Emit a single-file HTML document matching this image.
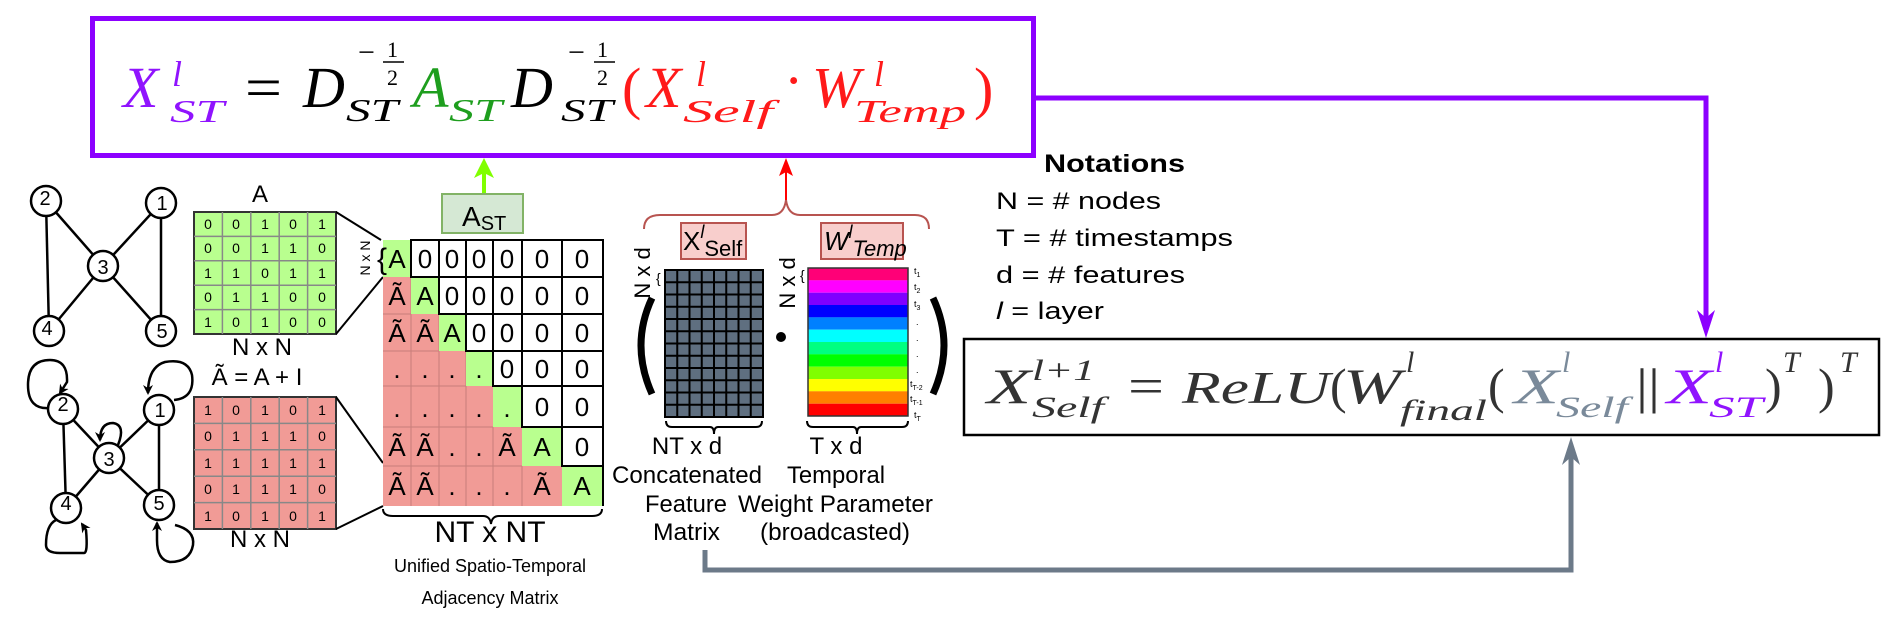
<!DOCTYPE html>
<html><head><meta charset="utf-8"><style>
html,body{margin:0;padding:0;background:#fff;}
svg{display:block;font-family:"Liberation Sans",sans-serif;}
.m{font-family:"Liberation Serif",serif;font-style:italic;}
.u{font-family:"Liberation Serif",serif;}
</style></head><body>
<svg width="1888" height="621" viewBox="0 0 1888 621" xmlns="http://www.w3.org/2000/svg">
<defs>
<marker id="ah" markerWidth="10" markerHeight="10" refX="8" refY="5" orient="auto" markerUnits="userSpaceOnUse"><path d="M0,0 L10,5 L0,10 L3,5 Z" fill="#000"/></marker>
</defs>

<!-- top formula box -->
<rect x="92.5" y="18.5" width="941" height="137" fill="#fff" stroke="#8c00ff" stroke-width="5"/>
<g class="m" font-size="58">
<text x="123" y="107" fill="#9013fe">X</text>
<text x="172" y="86" font-size="36" fill="#9013fe">l</text>
<text x="170" y="122" font-size="32" fill="#9013fe" textLength="54" lengthAdjust="spacingAndGlyphs">ST</text>
<text class="u" x="245" y="107" font-style="normal" textLength="37" lengthAdjust="spacingAndGlyphs">=</text>
<text x="303" y="107">D</text>
<text class="u" x="358" y="62" font-size="30" font-style="normal">−</text>
<text class="u" x="387" y="57" font-size="22" font-style="normal">1</text>
<line x1="383" y1="62" x2="404" y2="62" stroke="#000" stroke-width="1.5"/>
<text class="u" x="387" y="85" font-size="22" font-style="normal">2</text>
<text x="346" y="121" font-size="32" textLength="52" lengthAdjust="spacingAndGlyphs">ST</text>
<text x="413" y="107" fill="#1e9e1e">A</text>
<text x="449" y="121" font-size="32" fill="#1e9e1e" textLength="53" lengthAdjust="spacingAndGlyphs">ST</text>
<text x="511" y="107">D</text>
<text class="u" x="568" y="62" font-size="30" font-style="normal">−</text>
<text class="u" x="597" y="57" font-size="22" font-style="normal">1</text>
<line x1="594" y1="62" x2="615" y2="62" stroke="#000" stroke-width="1.5"/>
<text class="u" x="597" y="85" font-size="22" font-style="normal">2</text>
<text x="561" y="121" font-size="32" textLength="52" lengthAdjust="spacingAndGlyphs">ST</text>
<g fill="#ff1a1a">
<text class="u" x="622" y="108" font-style="normal">(</text>
<text x="646" y="107">X</text>
<text x="696" y="86" font-size="36">l</text>
<text x="683" y="122" font-size="32" textLength="90" lengthAdjust="spacingAndGlyphs">Self</text>
<text class="u" x="784" y="100" font-style="normal">·</text>
<text x="812" y="107">W</text>
<text x="874" y="86" font-size="36">l</text>
<text x="854" y="122" font-size="32" textLength="112" lengthAdjust="spacingAndGlyphs">Temp</text>
<text class="u" x="974" y="108" font-style="normal">)</text>
</g>
</g>

<!-- purple connector -->
<polyline points="1036,98 1706,98 1706,322" fill="none" stroke="#8c00ff" stroke-width="5"/>
<path d="M1697,310 L1706,338 L1715,310 L1706,318 Z" fill="#8c00ff"/>

<!-- notations -->
<text x="1044" y="172" font-size="25" font-weight="bold" textLength="141" lengthAdjust="spacingAndGlyphs">Notations</text>
<text x="996" y="209" font-size="24" textLength="165" lengthAdjust="spacingAndGlyphs">N = # nodes</text>
<text x="996" y="246" font-size="24" textLength="237" lengthAdjust="spacingAndGlyphs">T = # timestamps</text>
<text x="996" y="283" font-size="24" textLength="189" lengthAdjust="spacingAndGlyphs">d = # features</text>
<text x="996" y="319" font-size="24" textLength="108" lengthAdjust="spacingAndGlyphs"><tspan font-style="italic">l</tspan> = layer</text>

<!-- right formula box -->
<rect x="964" y="339" width="915" height="96" fill="#fff" stroke="#000" stroke-width="2.5"/>
<g class="m" font-size="50" fill="#333">
<text x="987" y="403" textLength="44" lengthAdjust="spacingAndGlyphs">X</text>
<text x="1032" y="380" font-size="30" textLength="63" lengthAdjust="spacingAndGlyphs">l+1</text>
<text x="1032" y="417" font-size="30" textLength="72" lengthAdjust="spacingAndGlyphs">Self</text>
<text class="u" x="1128" y="403" font-style="normal" textLength="36" lengthAdjust="spacingAndGlyphs">=</text>
<text x="1182" y="403" font-size="46" textLength="148" lengthAdjust="spacingAndGlyphs">ReLU</text>
<text class="u" x="1330" y="403" font-style="normal">(</text>
<text x="1343" y="403" textLength="58" lengthAdjust="spacingAndGlyphs">W</text>
<text x="1406" y="372" font-size="30">l</text>
<text x="1400" y="420" font-size="30" textLength="87" lengthAdjust="spacingAndGlyphs">final</text>
<text class="u" x="1488" y="403" font-style="normal">(</text>
<text x="1514" y="403" fill="#7a8a9a" textLength="45" lengthAdjust="spacingAndGlyphs">X</text>
<text x="1562" y="372" font-size="30" fill="#7a8a9a">l</text>
<text x="1556" y="417" font-size="30" fill="#7a8a9a" textLength="72" lengthAdjust="spacingAndGlyphs">Self</text>
<text class="u" x="1636" y="403" font-style="normal" textLength="24" lengthAdjust="spacingAndGlyphs">||</text>
<text x="1667" y="403" fill="#9013fe" textLength="45" lengthAdjust="spacingAndGlyphs">X</text>
<text x="1715" y="372" font-size="30" fill="#9013fe">l</text>
<text x="1709" y="417" font-size="30" fill="#9013fe" textLength="54" lengthAdjust="spacingAndGlyphs">ST</text>
<text class="u" x="1765" y="403" font-style="normal">)</text>
<text x="1783" y="372" font-size="30">T</text>
<text class="u" x="1818" y="403" font-style="normal">)</text>
<text x="1840" y="372" font-size="30">T</text>
</g>

<!-- grey connector -->
<polyline points="705,550 705,570 1571,570 1571,452" fill="none" stroke="#6c7a89" stroke-width="5"/>
<path d="M1562,465 L1571,437 L1580,465 L1571,457 Z" fill="#6c7a89"/>

<!-- top graph -->
<g stroke="#000" stroke-width="2.5" fill="#fff">
<line x1="46" y1="201" x2="49" y2="331"/><line x1="46" y1="201" x2="103" y2="266"/>
<line x1="161" y1="203" x2="103" y2="266"/><line x1="161" y1="203" x2="161" y2="331"/>
<line x1="103" y1="266" x2="49" y2="331"/><line x1="103" y1="266" x2="161" y2="331"/>
<circle cx="46" cy="201" r="15"/><circle cx="161" cy="203" r="15"/><circle cx="103" cy="266" r="15"/><circle cx="49" cy="331" r="15"/><circle cx="161" cy="331" r="15"/>
</g>
<g font-size="20" text-anchor="middle">
<text x="45" y="205">2</text><text x="162" y="210">1</text><text x="103" y="274">3</text><text x="47" y="335">4</text><text x="162" y="338">5</text>
</g>

<!-- bottom graph -->
<g stroke="#000" stroke-width="2.5" fill="none">
<path d="M50,408 Q28,410 28,385 Q28,360 50,360 Q68,360 67,382 L60,393" marker-end="url(#ah)"/>
<path d="M174,400 Q195,398 192,375 Q188,358 165,362 Q148,367 148,393" marker-end="url(#ah)"/>
<path d="M118,445 Q126,425 113,423 Q100,423 100,440" marker-end="url(#ah)"/>
<path d="M56,520 Q46,525 46,545 Q46,553 60,553 L84,553 Q88,553 86,530 L82,524" marker-end="url(#ah)"/>
<path d="M175,525 Q195,530 193,545 Q190,562 170,562 Q157,560 157,540 L157,523" marker-end="url(#ah)"/>
</g>
<g stroke="#000" stroke-width="2.5" fill="#fff">
<line x1="63" y1="409" x2="66" y2="508"/><line x1="63" y1="409" x2="109" y2="458"/>
<line x1="159" y1="410" x2="109" y2="458"/><line x1="159" y1="410" x2="159" y2="505"/>
<line x1="109" y1="458" x2="66" y2="508"/><line x1="109" y1="458" x2="159" y2="505"/>
<circle cx="63" cy="409" r="15"/><circle cx="159" cy="410" r="15"/><circle cx="109" cy="458" r="15"/><circle cx="66" cy="508" r="15"/><circle cx="159" cy="505" r="15"/>
</g>
<g font-size="20" text-anchor="middle">
<text x="63" y="411">2</text><text x="160" y="417">1</text><text x="109" y="466">3</text><text x="66" y="510">4</text><text x="159" y="510">5</text>
</g>

<!-- A matrix -->
<text x="260" y="202" font-size="24" text-anchor="middle">A</text>
<rect x="194" y="212" width="142" height="122" fill="#b9ff8f" stroke="#333" stroke-width="2"/>
<g stroke="#888" stroke-width="1.5">
<line x1="222.4" y1="212" x2="222.4" y2="334"/><line x1="250.8" y1="212" x2="250.8" y2="334"/><line x1="279.2" y1="212" x2="279.2" y2="334"/><line x1="307.6" y1="212" x2="307.6" y2="334"/>
<line x1="194" y1="236.4" x2="336" y2="236.4"/><line x1="194" y1="260.8" x2="336" y2="260.8"/><line x1="194" y1="285.2" x2="336" y2="285.2"/><line x1="194" y1="309.6" x2="336" y2="309.6"/>
</g>
<g font-size="14" text-anchor="middle">
<text x="208" y="229">0</text><text x="236" y="229">0</text><text x="265" y="229">1</text><text x="293" y="229">0</text><text x="322" y="229">1</text>
<text x="208" y="253">0</text><text x="236" y="253">0</text><text x="265" y="253">1</text><text x="293" y="253">1</text><text x="322" y="253">0</text>
<text x="208" y="278">1</text><text x="236" y="278">1</text><text x="265" y="278">0</text><text x="293" y="278">1</text><text x="322" y="278">1</text>
<text x="208" y="302">0</text><text x="236" y="302">1</text><text x="265" y="302">1</text><text x="293" y="302">0</text><text x="322" y="302">0</text>
<text x="208" y="327">1</text><text x="236" y="327">0</text><text x="265" y="327">1</text><text x="293" y="327">0</text><text x="322" y="327">0</text>
</g>
<text x="262" y="355" font-size="24" text-anchor="middle">N x N</text>
<text x="257" y="385" font-size="24" text-anchor="middle">Ã = A + I</text>

<!-- pink matrix -->
<rect x="194" y="397" width="142" height="132" fill="#f19b96" stroke="#333" stroke-width="2"/>
<g stroke="#888" stroke-width="1.5">
<line x1="222.4" y1="397" x2="222.4" y2="529"/><line x1="250.8" y1="397" x2="250.8" y2="529"/><line x1="279.2" y1="397" x2="279.2" y2="529"/><line x1="307.6" y1="397" x2="307.6" y2="529"/>
<line x1="194" y1="423.4" x2="336" y2="423.4"/><line x1="194" y1="449.8" x2="336" y2="449.8"/><line x1="194" y1="476.2" x2="336" y2="476.2"/><line x1="194" y1="502.6" x2="336" y2="502.6"/>
</g>
<g font-size="14" text-anchor="middle">
<text x="208" y="415">1</text><text x="236" y="415">0</text><text x="265" y="415">1</text><text x="293" y="415">0</text><text x="322" y="415">1</text>
<text x="208" y="441">0</text><text x="236" y="441">1</text><text x="265" y="441">1</text><text x="293" y="441">1</text><text x="322" y="441">0</text>
<text x="208" y="468">1</text><text x="236" y="468">1</text><text x="265" y="468">1</text><text x="293" y="468">1</text><text x="322" y="468">1</text>
<text x="208" y="494">0</text><text x="236" y="494">1</text><text x="265" y="494">1</text><text x="293" y="494">1</text><text x="322" y="494">0</text>
<text x="208" y="521">1</text><text x="236" y="521">0</text><text x="265" y="521">1</text><text x="293" y="521">0</text><text x="322" y="521">1</text>
</g>
<text x="260" y="547" font-size="24" text-anchor="middle">N x N</text>

<!-- zoom lines -->
<g stroke="#000" stroke-width="2">
<line x1="336" y1="212" x2="381" y2="240"/><line x1="336" y1="334" x2="383" y2="277"/>
<line x1="336" y1="397" x2="383" y2="463"/><line x1="336" y1="529" x2="383" y2="506"/>
</g>

<!-- A_ST box + arrow -->
<line x1="484" y1="193" x2="484" y2="172" stroke="#80ff00" stroke-width="4"/>
<path d="M474,178 L484,158 L494,178 L484,173 Z" fill="#80ff00"/>
<rect x="442" y="194" width="81" height="39" fill="#d5e8d4" stroke="#82b366" stroke-width="2"/>
<text x="462" y="226" font-size="28">A<tspan font-size="20" dy="4">ST</tspan></text>

<!-- big matrix -->
<rect x="383" y="240" width="220" height="266" fill="#f19b96"/>
<g stroke="#c87e7a" stroke-width="1">
<line x1="411" y1="277" x2="411" y2="506"/><line x1="439" y1="314" x2="439" y2="506"/><line x1="466" y1="351" x2="466" y2="506"/><line x1="493" y1="427" x2="493" y2="506"/><line x1="522" y1="466" x2="522" y2="506"/>
<line x1="383" y1="314" x2="411" y2="314"/><line x1="383" y1="351" x2="439" y2="351"/><line x1="383" y1="386" x2="466" y2="386"/><line x1="383" y1="427" x2="493" y2="427"/><line x1="383" y1="466" x2="522" y2="466"/>
</g>
<g fill="#b9ff8f">
<rect x="383" y="240" width="28" height="37"/><rect x="411" y="277" width="28" height="37"/><rect x="439" y="314" width="27" height="37"/><rect x="466" y="351" width="27" height="35"/><rect x="493" y="386" width="29" height="41"/><rect x="522" y="427" width="40" height="39"/><rect x="562" y="466" width="41" height="40"/>
</g>
<g fill="#fff" stroke="#000" stroke-width="2">
<rect x="411" y="240" width="28" height="37"/><rect x="439" y="240" width="27" height="37"/><rect x="466" y="240" width="27" height="37"/><rect x="493" y="240" width="29" height="37"/><rect x="522" y="240" width="40" height="37"/><rect x="562" y="240" width="41" height="37"/>
<rect x="439" y="277" width="27" height="37"/><rect x="466" y="277" width="27" height="37"/><rect x="493" y="277" width="29" height="37"/><rect x="522" y="277" width="40" height="37"/><rect x="562" y="277" width="41" height="37"/>
<rect x="466" y="314" width="27" height="37"/><rect x="493" y="314" width="29" height="37"/><rect x="522" y="314" width="40" height="37"/><rect x="562" y="314" width="41" height="37"/>
<rect x="493" y="351" width="29" height="35"/><rect x="522" y="351" width="40" height="35"/><rect x="562" y="351" width="41" height="35"/>
<rect x="522" y="386" width="40" height="41"/><rect x="562" y="386" width="41" height="41"/>
<rect x="562" y="427" width="41" height="39"/>
</g>
<line x1="603" y1="466" x2="603" y2="506" stroke="#000" stroke-width="2"/>
<g font-size="26" text-anchor="middle">
<text x="397" y="268">A</text><text x="425" y="268">0</text><text x="452" y="268">0</text><text x="479" y="268">0</text><text x="507" y="268">0</text><text x="542" y="268">0</text><text x="582" y="268">0</text>
<text x="397" y="305">Ã</text><text x="425" y="305">A</text><text x="452" y="305">0</text><text x="479" y="305">0</text><text x="507" y="305">0</text><text x="542" y="305">0</text><text x="582" y="305">0</text>
<text x="397" y="342">Ã</text><text x="425" y="342">Ã</text><text x="452" y="342">A</text><text x="479" y="342">0</text><text x="507" y="342">0</text><text x="542" y="342">0</text><text x="582" y="342">0</text>
<text x="397" y="378">.</text><text x="425" y="378">.</text><text x="452" y="378">.</text><text x="479" y="378">.</text><text x="507" y="378">0</text><text x="542" y="378">0</text><text x="582" y="378">0</text>
<text x="397" y="417">.</text><text x="425" y="417">.</text><text x="452" y="417">.</text><text x="479" y="417">.</text><text x="507" y="417">.</text><text x="542" y="416">0</text><text x="582" y="416">0</text>
<text x="397" y="456">Ã</text><text x="425" y="456">Ã</text><text x="452" y="456">.</text><text x="479" y="456">.</text><text x="507" y="456">Ã</text><text x="542" y="456">A</text><text x="582" y="456">0</text>
<text x="397" y="495">Ã</text><text x="425" y="495">Ã</text><text x="452" y="495">.</text><text x="479" y="495">.</text><text x="507" y="495">.</text><text x="542" y="495">Ã</text><text x="582" y="495">A</text>
</g>
<text x="377" y="269" font-size="30">{</text>
<text transform="translate(370,258) rotate(-90)" font-size="14" text-anchor="middle">N x N</text>
<path d="M383,509 Q383,516 393,516 L483,516 Q490,516 491,524 Q492,516 499,516 L592,516 Q602,516 602,509" fill="none" stroke="#000" stroke-width="2"/>
<text x="490" y="542" font-size="30" text-anchor="middle">NT x NT</text>
<text x="490" y="572" font-size="18" text-anchor="middle">Unified Spatio-Temporal</text>
<text x="490" y="604" font-size="18" text-anchor="middle">Adjacency Matrix</text>

<!-- red brace and arrow -->
<path d="M644,229 Q644,215 660,215 L772,215 Q784,215 786,200 Q788,215 800,215 L915,215 Q929,215 929,229" fill="none" stroke="#b85450" stroke-width="2"/>
<line x1="786" y1="200" x2="786" y2="172" stroke="#ff0000" stroke-width="2"/>
<path d="M779,176 L786,158 L793,176 L786,172 Z" fill="#ff0000"/>
<rect x="681" y="223" width="65" height="36" fill="#f8cecc" stroke="#b85450" stroke-width="2"/>
<text x="683" y="250" font-size="26">X<tspan font-size="18" font-style="italic" dy="-12">l</tspan><tspan font-size="22" dy="18">Self</tspan></text>
<rect x="821" y="223" width="82" height="36" fill="#f8cecc" stroke="#b85450" stroke-width="2"/>
<text x="824" y="250" font-size="26" font-style="italic">W<tspan font-size="18" dy="-12">l</tspan><tspan font-size="22" dy="18">Temp</tspan></text>

<!-- feature grid -->
<rect x="665" y="270" width="98" height="147" fill="#5f6f80" stroke="#000" stroke-width="2"/>
<g stroke="#000" stroke-width="2">
<line x1="677.25" y1="270" x2="677.25" y2="417"/><line x1="689.5" y1="270" x2="689.5" y2="417"/><line x1="701.75" y1="270" x2="701.75" y2="417"/><line x1="714" y1="270" x2="714" y2="417"/><line x1="726.25" y1="270" x2="726.25" y2="417"/><line x1="738.5" y1="270" x2="738.5" y2="417"/><line x1="750.75" y1="270" x2="750.75" y2="417"/>
<line x1="665" y1="282.25" x2="763" y2="282.25"/><line x1="665" y1="294.5" x2="763" y2="294.5"/><line x1="665" y1="306.75" x2="763" y2="306.75"/><line x1="665" y1="319" x2="763" y2="319"/><line x1="665" y1="331.25" x2="763" y2="331.25"/><line x1="665" y1="343.5" x2="763" y2="343.5"/><line x1="665" y1="355.75" x2="763" y2="355.75"/><line x1="665" y1="368" x2="763" y2="368"/><line x1="665" y1="380.25" x2="763" y2="380.25"/><line x1="665" y1="392.5" x2="763" y2="392.5"/><line x1="665" y1="404.75" x2="763" y2="404.75"/>
</g>
<text x="656" y="283" font-size="14">{</text>
<text transform="translate(650,273) rotate(-90)" font-size="22" text-anchor="middle">N x d</text>

<!-- colored bar -->
<rect x="808" y="268" width="100" height="12.4" fill="#ff0077"/>
<rect x="808" y="280.3" width="100" height="12.4" fill="#ff00ff"/>
<rect x="808" y="292.7" width="100" height="12.4" fill="#8000ff"/>
<rect x="808" y="305" width="100" height="12.4" fill="#0000ff"/>
<rect x="808" y="317.3" width="100" height="12.4" fill="#0080ff"/>
<rect x="808" y="329.7" width="100" height="12.4" fill="#00ffff"/>
<rect x="808" y="342" width="100" height="12.4" fill="#00ff80"/>
<rect x="808" y="354.3" width="100" height="12.4" fill="#00ff00"/>
<rect x="808" y="366.7" width="100" height="12.4" fill="#80ff00"/>
<rect x="808" y="379" width="100" height="12.4" fill="#ffff00"/>
<rect x="808" y="391.3" width="100" height="12.4" fill="#ff8000"/>
<rect x="808" y="403.7" width="100" height="12.3" fill="#ff0000"/>
<rect x="808" y="268" width="100" height="148" fill="none" stroke="#333" stroke-width="1.5"/>
<text x="800" y="280" font-size="14">{</text>
<text transform="translate(795,283) rotate(-90)" font-size="22" text-anchor="middle">N x d</text>
<g font-size="9">
<text x="914" y="274">t<tspan font-size="7" dy="3">1</tspan></text>
<text x="914" y="290">t<tspan font-size="7" dy="3">2</tspan></text>
<text x="914" y="307">t<tspan font-size="7" dy="3">3</tspan></text>
<text x="916" y="325">.</text><text x="916" y="341">.</text><text x="916" y="357">.</text><text x="916" y="373">.</text>
<text x="910" y="387">t<tspan font-size="7" dy="3">T-2</tspan></text>
<text x="910" y="402">t<tspan font-size="7" dy="3">T-1</tspan></text>
<text x="914" y="418">t<tspan font-size="7" dy="3">T</tspan></text>
</g>

<!-- parentheses and dot -->
<path d="M652,298 Q630,345 652,394" fill="none" stroke="#000" stroke-width="7"/>
<path d="M933,298 Q955,345 933,394" fill="none" stroke="#000" stroke-width="7"/>
<circle cx="781" cy="337" r="5" fill="#000"/>

<!-- braces under -->
<path d="M666,421 Q666,427 672,427 L710,427 Q714,427 714,434 Q714,427 718,427 L756,427 Q762,427 762,421" fill="none" stroke="#000" stroke-width="2"/>
<path d="M807,421 Q807,427 813,427 L853,427 Q857,427 857,434 Q857,427 861,427 L902,427 Q908,427 908,421" fill="none" stroke="#000" stroke-width="2"/>

<g font-size="24">
<text x="687" y="454" text-anchor="middle">NT x d</text>
<text x="836" y="454" text-anchor="middle">T x d</text>
<text x="612" y="483" textLength="150" lengthAdjust="spacingAndGlyphs">Concatenated</text>
<text x="787" y="483" textLength="98" lengthAdjust="spacingAndGlyphs">Temporal</text>
<text x="645" y="512" textLength="82" lengthAdjust="spacingAndGlyphs">Feature</text>
<text x="738" y="512" textLength="195" lengthAdjust="spacingAndGlyphs">Weight Parameter</text>
<text x="653" y="540" textLength="67" lengthAdjust="spacingAndGlyphs">Matrix</text>
<text x="760" y="540" textLength="150" lengthAdjust="spacingAndGlyphs">(broadcasted)</text>
</g>
</svg>
</body></html>
